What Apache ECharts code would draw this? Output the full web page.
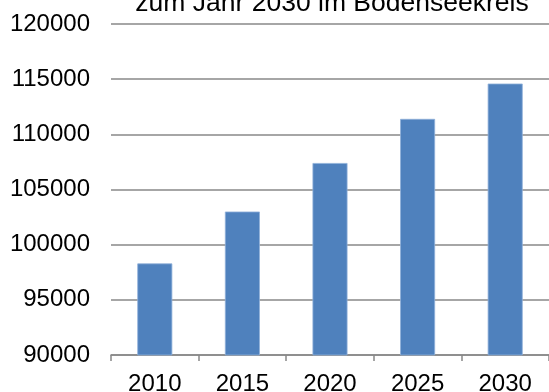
<!DOCTYPE html>
<html><head><meta charset="utf-8">
<script src="https://cdn.jsdelivr.net/npm/echarts@6/dist/echarts.min.js"></script>
<style>html,body{margin:0;padding:0;background:#fff}#c{width:549px;height:392px}</style>
</head><body><div id="c"></div>
<script>
const titleText = 'zum Jahr 2030 im Bodenseekreis';
const categories = ['2010', '2015', '2020', '2025', '2030'];
const values = [98300, 103000, 107400, 111400, 114600];
const yMin = 90000, yMax = 120000, yStep = 5000;

const chart = echarts.init(document.getElementById('c'), null, {renderer: 'canvas'});
chart.setOption({
  animation: false,
  backgroundColor: '#ffffff',
  textStyle: {fontFamily: 'Liberation Sans, Arial, sans-serif'},
  title: {
    text: titleText,
    left: 327, textAlign: 'center', top: -15,
    textStyle: {fontSize: 26.5, fontWeight: 'normal', color: '#000', fontFamily: 'Liberation Sans, Arial, sans-serif'}
  },
  grid: {left: 111, right: 0, top: 24, bottom: 37, containLabel: false, outerBoundsMode: 'none'},
  xAxis: {
    type: 'category', data: categories,
    axisLine: {show: true, lineStyle: {color: '#888', width: 1.5}},
    axisTick: {show: true, length: 6, alignWithLabel: false, lineStyle: {color: '#888', width: 1.5}},
    axisLabel: {fontSize: 24, color: '#000', margin: 17, fontFamily: 'Liberation Sans, Arial, sans-serif'}
  },
  yAxis: {
    type: 'value', min: yMin, max: yMax, interval: yStep,
    axisLine: {show: false}, axisTick: {show: false},
    axisLabel: {fontSize: 24, color: '#000', margin: 21, fontFamily: 'Liberation Sans, Arial, sans-serif',
      formatter: v => String(v)},
    splitLine: {show: true, lineStyle: {color: '#888', width: 1.5}}
  },
  series: [{
    type: 'bar', data: values, barWidth: 35,
    itemStyle: {color: '#4F81BD', borderColor: '#8fb0d9', borderWidth: 0.8}
  }]
});
</script></body></html>
